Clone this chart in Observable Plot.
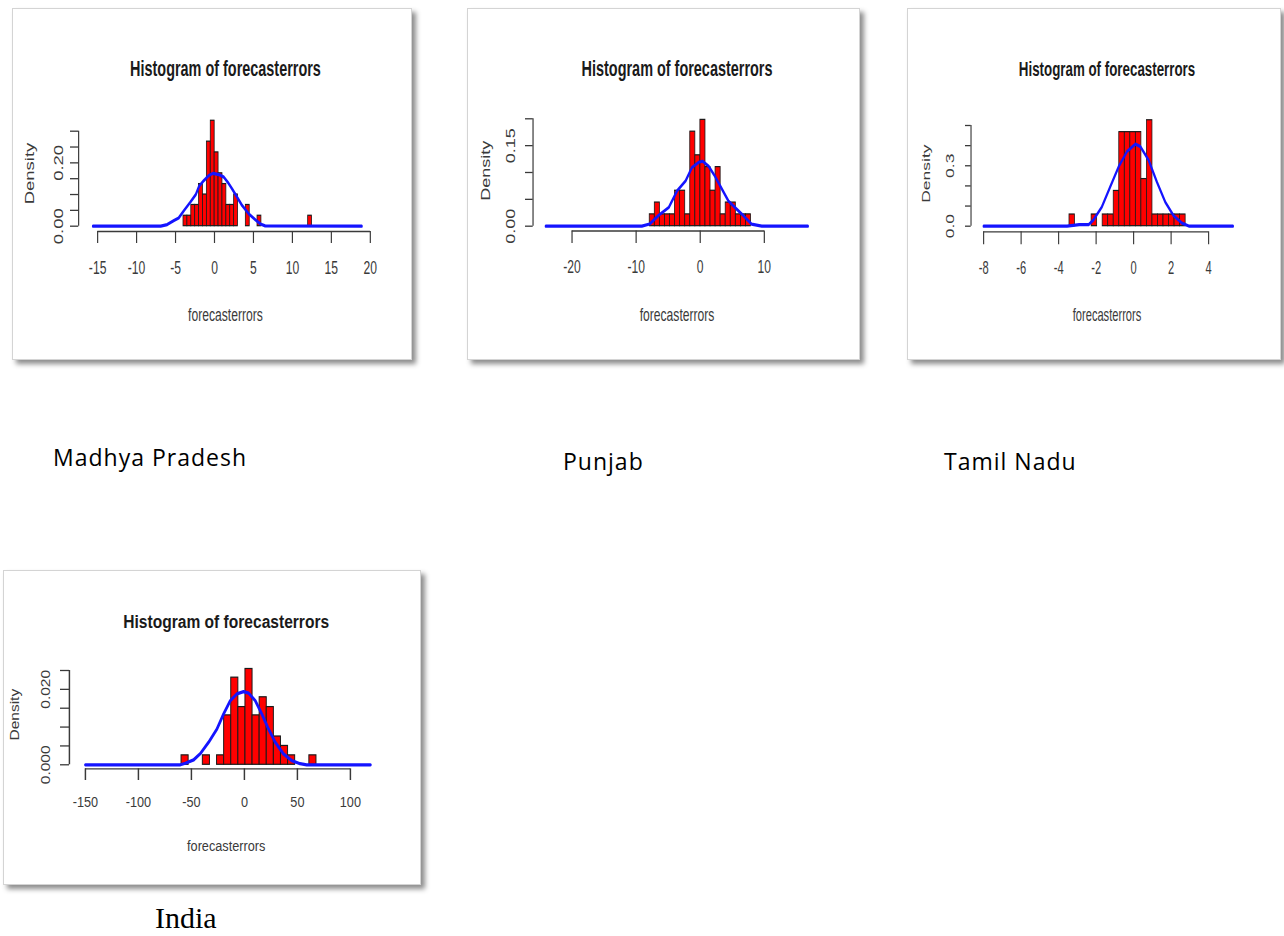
<!DOCTYPE html>
<html><head><meta charset="utf-8">
<script src="https://cdn.jsdelivr.net/npm/d3@7"></script>
<script src="https://cdn.jsdelivr.net/npm/@observablehq/plot@0.6"></script>
<style>
html,body{margin:0;padding:0;background:#fff;}
#page{position:relative;width:1284px;height:936px;overflow:hidden;background:#fff;}
.frame{position:absolute;background:#fff;border:1px solid #d4d4d4;box-shadow:4px 4px 5px rgba(0,0,0,0.45);box-sizing:border-box;}
.cap{position:absolute;white-space:nowrap;color:#000;line-height:1;}
</style></head><body><div id="page"></div>
<script>
// ---------------- data ----------------
const chartTitle = "Histogram of forecasterrors";
const xLabel = "forecasterrors";
const yLabel = "Density";

// Madhya Pradesh
const mpBinStart = [-4,-3.5,-3,-2.5,-2,-1.5,-1,-0.5,0,0.5,1,1.5,2,2.5,4,5.5,12];
const mpBinWidth = 0.5;
const mpDensity = [0.033,0.033,0.067,0.067,0.133,0.100,0.267,0.333,0.233,0.167,0.133,0.067,0.067,0.100,0.067,0.033,0.033];
const mpLineX = [-15.6,-6.9,-6.07,-5.2,-4.6,-3.9,-3.1,-2.4,-2,-1.37,-0.73,-0.17,0.56,1.2,1.7,2.26,2.9,3.55,4.4,5.26,5.9,6.5,18.9];
const mpLineY = [0,0,0.005,0.018,0.026,0.05,0.076,0.1,0.125,0.144,0.16,0.167,0.163,0.155,0.139,0.118,0.092,0.065,0.039,0.02,0.007,0.001,0];
const mpXTicks = [-15,-10,-5,0,5,10,15,20];
const mpYTicks = [0,0.05,0.10,0.15,0.20,0.25,0.30];
const mpYLabelAt = [0,0.20];
const mpYLabelText = ["0.00","0.20"];

// Punjab
const pbBinStart = [-7.9,-7.11,-6.32,-5.53,-4.74,-3.95,-3.16,-2.37,-1.58,-0.79,0,0.79,1.58,2.37,3.16,3.95,4.74,5.53,6.32,7.11];
const pbBinWidth = 0.79;
const pbDensity = [0.022,0.044,0.022,0.022,0.022,0.066,0.066,0.022,0.176,0.132,0.198,0.110,0.066,0.110,0.022,0.044,0.044,0.022,0.022,0.022];
const pbLineX = [-24.1,-9.1,-7.9,-6.5,-4.9,-3.6,-2.3,-1.3,-0.26,0.36,1.3,2.3,3.4,4.4,5.4,6.7,8,9.6,16.8];
const pbLineY = [0,0,0.004,0.02,0.035,0.066,0.084,0.109,0.119,0.121,0.112,0.093,0.069,0.047,0.035,0.02,0.004,0,0];
const pbXTicks = [-20,-10,0,10];
const pbYTicks = [0,0.05,0.10,0.15,0.20];
const pbYLabelAt = [0,0.15];
const pbYLabelText = ["0.00","0.15"];

// Tamil Nadu
const tnBinStart = [-3.43,-2.25,-1.66,-1.365,-1.07,-0.775,-0.48,-0.185,0.11,0.405,0.70,0.995,1.29,1.585,1.88,2.175,2.47];
const tnBinWidth = 0.295;
const tnDensity = [0.058,0.058,0.058,0.058,0.175,0.467,0.467,0.467,0.467,0.234,0.526,0.058,0.058,0.058,0.058,0.058,0.058];
const tnLineX = [-8,-3.55,-2.9,-2.4,-2.15,-1.7,-1.25,-0.8,-0.36,0.09,0.36,0.8,1.24,1.69,2.13,2.58,2.97,5.3];
const tnLineY = [0,0,0.008,0.008,0.03,0.095,0.195,0.295,0.37,0.408,0.395,0.328,0.22,0.12,0.053,0.015,0,0];
const tnXTicks = [-8,-6,-4,-2,0,2,4];
const tnYTicks = [0,0.1,0.2,0.3,0.4,0.5];
const tnYLabelAt = [0,0.3];
const tnYLabelText = ["0.0","0.3"];

// India
const inBinStart = [-59.4,-39.3,-25.9,-19.2,-12.5,-5.8,0.9,7.6,14.3,21.0,27.7,34.4,41.1,61.2];
const inBinWidth = 6.7;
const inDensity = [0.0025,0.0025,0.0025,0.0131,0.0231,0.0153,0.0254,0.0131,0.0179,0.0153,0.0075,0.005,0.0025,0.0025];
const inLineX = [-150,-60.4,-55.7,-47.9,-41.5,-33.7,-25.9,-19.6,-13.3,-7.1,-0.8,3.9,10.2,16.4,22.7,29,36.8,44.7,52.5,58.8,118.9];
const inLineY = [0,0,0.0004,0.0013,0.003,0.006,0.0095,0.0135,0.017,0.0188,0.0194,0.019,0.017,0.0135,0.0095,0.006,0.0029,0.0011,0.0003,0,0];
const inXTicks = [-150,-100,-50,0,50,100];
const inYTicks = [0,0.005,0.010,0.015,0.020,0.025];
const inYLabelAt = [0,0.020];
const inYLabelText = ["0.000","0.020"];

const captions = ["Madhya Pradesh","Punjab","Tamil Nadu","India"];

// ---------------- layout (page pixels) ----------------
const layouts = [
  {frame:{left:12,top:8,right:412,bottom:360}, sx:0.656, font:18.5, titleFont:22,
   plotLeft:78.3, plotRight:372, plotTop:115, axisY:231, xCal:[[-15,97.3],[20,370]], yCal:[[0,225.7],[0.30,130.7]],
   titleY:68.3, xlabY:315, yTickLen:8.3, xTickLen:12, xTickPad:17, yLabBase:62.7, densBase:34.1},
  {frame:{left:467,top:8,right:860,bottom:360}, sx:0.672, font:18, titleFont:21.5,
   plotLeft:532.7, plotRight:820.7, plotTop:110, axisY:230.5, xCal:[[-20,571.7],[10,764]], yCal:[[0,225.7],[0.20,118.3]],
   titleY:68.3, xlabY:315, yTickLen:7.7, xTickLen:12.5, xTickPad:17, yLabBase:515, densBase:489.2},
  {frame:{left:907,top:8,right:1281,bottom:360}, sx:0.636, font:17.5, titleFont:21,
   plotLeft:970.7, plotRight:1242.7, plotTop:115, axisY:231.3, xCal:[[-8,983.3],[4,1208.3]], yCal:[[0,225.7],[0.5,125]],
   titleY:68.3, xlabY:315, yTickLen:5.7, xTickLen:13, xTickPad:16.5, yLabBase:953.3, densBase:929.4},
  {frame:{left:3,top:570,right:421,bottom:885}, sx:0.82, font:15.5, titleFont:19,
   plotLeft:69, plotRight:382.6, plotTop:660, axisY:768.3, xCal:[[-150,85],[100,350]], yCal:[[0,764.3],[0.025,670]],
   titleY:621.7, xlabY:846, yTickLen:9, xTickLen:11.7, xTickPad:15, yLabBase:50, densBase:19}
];
const captionLayout = [
  {left:53, top:446, font:"'Open Sans', sans-serif", size:23, spacing:1},
  {left:563, top:450, font:"'Open Sans', sans-serif", size:23, spacing:1},
  {left:944, top:450, font:"'Open Sans', sans-serif", size:23, spacing:1},
  {left:155, top:903, font:"'Liberation Serif', 'Times New Roman', serif", size:30, spacing:0}
];

const datasets = [
  {binStart:mpBinStart, binWidth:mpBinWidth, density:mpDensity, lineX:mpLineX, lineY:mpLineY, xTicks:mpXTicks, yTicks:mpYTicks, yLabelAt:mpYLabelAt, yLabelText:mpYLabelText},
  {binStart:pbBinStart, binWidth:pbBinWidth, density:pbDensity, lineX:pbLineX, lineY:pbLineY, xTicks:pbXTicks, yTicks:pbYTicks, yLabelAt:pbYLabelAt, yLabelText:pbYLabelText},
  {binStart:tnBinStart, binWidth:tnBinWidth, density:tnDensity, lineX:tnLineX, lineY:tnLineY, xTicks:tnXTicks, yTicks:tnYTicks, yLabelAt:tnYLabelAt, yLabelText:tnYLabelText},
  {binStart:inBinStart, binWidth:inBinWidth, density:inDensity, lineX:inLineX, lineY:inLineY, xTicks:inXTicks, yTicks:inYTicks, yLabelAt:inYLabelAt, yLabelText:inYLabelText}
];

const page = document.getElementById("page");
const ink = "#3a3a3a";

function panel(cfg, d) {
  const sx = cfg.sx, fr = cfg.frame;
  const frame = document.createElement("div");
  frame.className = "frame";
  Object.assign(frame.style, {left: fr.left + "px", top: fr.top + "px", width: (fr.right - fr.left) + "px", height: (fr.bottom - fr.top) + "px"});
  page.appendChild(frame);

  const svgTop = fr.top + 1, svgBottom = fr.bottom - 2;
  const svgLeft = fr.left + 1, svgRight = fr.right - 2;
  const width = (svgRight - svgLeft) / sx;
  const height = svgBottom - svgTop;
  const marginLeft = (cfg.plotLeft - svgLeft) / sx;
  const marginRight = (svgRight - cfg.plotRight) / sx;
  const marginTop = cfg.plotTop - svgTop;
  const marginBottom = svgBottom - cfg.axisY;
  const [[xv1, xp1], [xv2, xp2]] = cfg.xCal;
  const xk = (xp2 - xp1) / (xv2 - xv1);
  const xDomain = [xv1 + (cfg.plotLeft - xp1) / xk, xv1 + (cfg.plotRight - xp1) / xk];
  const [[yv1, yp1], [yv2, yp2]] = cfg.yCal;
  const yk = (yp1 - yp2) / (yv2 - yv1);
  const yDomain = [yv1 + (yp1 - cfg.axisY) / yk, yv1 + (yp1 - cfg.plotTop) / yk];

  const bars = d.binStart.map((x1, i) => ({x1, x2: x1 + d.binWidth, y: d.density[i]}));
  const curve = d.lineX.map((x, i) => ({x, y: d.lineY[i]}));
  const ylabels = d.yLabelAt.map((v, i) => ({v, t: d.yLabelText[i]}));

  const svg = Plot.plot({
    width, height, marginLeft, marginRight, marginTop, marginBottom,
    x: {domain: xDomain},
    y: {domain: yDomain},
    style: {fontFamily: "'Liberation Sans', Arial, Helvetica, sans-serif", fontSize: cfg.font + "px", background: "transparent", overflow: "visible"},
    marks: [
      Plot.rectY(bars, {x1: "x1", x2: "x2", y: "y", fill: "#ff0000", stroke: "#1a1a1a", strokeWidth: 1.2}),
      Plot.line(curve, {x: "x", y: "y", stroke: "#1414ff", strokeWidth: 3.2}),
      Plot.ruleY([yDomain[0]], {x1: d.xTicks[0], x2: d.xTicks[d.xTicks.length - 1], stroke: ink, strokeWidth: 1.3}),
      Plot.ruleX([xDomain[0]], {y1: d.yTicks[0], y2: d.yTicks[d.yTicks.length - 1], stroke: ink, strokeWidth: 1.8}),
      Plot.axisX({ticks: d.xTicks, tickSize: cfg.xTickLen, tickPadding: cfg.xTickPad, tickFormat: v => String(v), label: null, stroke: ink, strokeWidth: 1.8, fill: ink}),
      Plot.axisY({ticks: d.yTicks, tickSize: cfg.yTickLen / sx, tickFormat: () => "", label: null, stroke: ink, strokeWidth: 1.3}),
      Plot.text(ylabels, {y: "v", text: "t", frameAnchor: "left", rotate: -90, textAnchor: "middle", lineAnchor: "bottom", dx: (cfg.yLabBase - cfg.plotLeft) / sx, fill: ink}),
      Plot.text([yLabel], {text: t => t, frameAnchor: "left", rotate: -90, textAnchor: "middle", lineAnchor: "bottom", dx: (cfg.densBase - cfg.plotLeft) / sx, fill: ink}),
      Plot.text([chartTitle], {text: t => t, frameAnchor: "top", dy: cfg.titleY - cfg.plotTop, lineAnchor: "middle", fontWeight: "bold", fontSize: cfg.titleFont, fill: "#1a1a1a"}),
      Plot.text([xLabel], {text: t => t, frameAnchor: "bottom", dy: cfg.xlabY - cfg.axisY, lineAnchor: "middle", fill: ink})
    ]
  });
  Object.assign(svg.style, {position: "absolute", left: svgLeft + "px", top: svgTop + "px", transform: `scaleX(${sx})`, transformOrigin: "0 0", maxWidth: "none", overflow: "visible"});
  page.appendChild(svg);
}

layouts.forEach((cfg, i) => panel(cfg, datasets[i]));

captions.forEach((c, i) => {
  const L = captionLayout[i];
  const el = document.createElement("div");
  el.className = "cap";
  el.textContent = c;
  Object.assign(el.style, {left: L.left + "px", top: L.top + "px", fontFamily: L.font, fontSize: L.size + "px", letterSpacing: L.spacing + "px"});
  page.appendChild(el);
});
</script></body></html>
